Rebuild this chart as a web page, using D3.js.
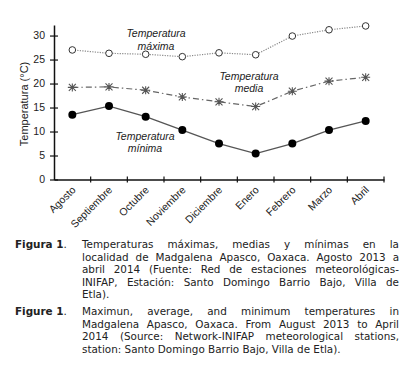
<html lang="es">
  <head>
    <meta charset="UTF-8" />
    <script src="https://cdn.jsdelivr.net/npm/d3@7"></script>
    <style>
      body { margin: 0; background: #fff; }
      svg { display: block; }
      .axis text { font-family: "Liberation Sans", Arial, sans-serif; font-size: 10.5px; fill: #222; }
      .lbl { font-family: "Liberation Sans", Arial, sans-serif; font-size: 10.5px; font-style: italic; fill: #222; }
      .cap { font-family: "DejaVu Sans", Verdana, sans-serif; font-size: 10px; fill: #222; }
    </style>
    <title>Figura 1</title>
  </head>
  <body>
    <script>
      const months = ["Agosto", "Septiembre", "Octubre", "Noviembre", "Diciembre", "Enero", "Febrero", "Marzo", "Abril"];
      const tMax = [27.0, 26.3, 26.1, 25.6, 26.4, 26.0, 29.9, 31.2, 32.0];
      const tMed = [19.2, 19.3, 18.6, 17.2, 16.2, 15.2, 18.4, 20.5, 21.3];
      const tMin = [13.5, 15.3, 13.1, 10.3, 7.5, 5.4, 7.5, 10.3, 12.2];
      const yTicks = [0, 5, 10, 15, 20, 25, 30];

      const capEs = [
        "Temperaturas máximas, medias y mínimas en la",
        "localidad de Madgalena Apasco, Oaxaca. Agosto 2013 a",
        "abril 2014 (Fuente: Red de estaciones meteorológicas-",
        "INIFAP, Estación: Santo Domingo Barrio Bajo, Villa de",
        "Etla)."
      ];
      const capEn = [
        "Maximun, average, and minimum temperatures in",
        "Madgalena Apasco, Oaxaca. From August 2013 to April",
        "2014 (Source: Network-INIFAP meteorological stations,",
        "station: Santo Domingo Barrio Bajo, Villa de Etla)."
      ];

      const width = 408, height = 385;
      const svg = d3.select("body").append("svg").attr("width", width).attr("height", height);

      const x = d3.scaleBand().domain(months).range([54, 384]);
      const y = d3.scaleLinear().domain([0, 32.2]).range([179.5, 25]);
      const cx = d => x(d) + x.bandwidth() / 2;

      // y axis
      const gy = svg.append("g").attr("class", "axis").attr("transform", "translate(54,0)")
        .call(d3.axisLeft(y).tickValues(yTicks).tickSize(0).tickPadding(9));
      gy.select(".domain").attr("stroke", "#111").attr("stroke-width", 1.5);
      gy.selectAll(".tick").append("line").attr("x1", -4).attr("x2", 4).attr("stroke", "#111").attr("stroke-width", 1.2);

      // x axis
      const gx = svg.append("g").attr("class", "axis").attr("transform", "translate(0,179.5)")
        .call(d3.axisBottom(x).tickSize(0).tickFormat(""));
      gx.select(".domain").attr("stroke", "#111").attr("stroke-width", 1.5);
      gx.selectAll(".tick").remove();
      gx.selectAll("line.t").data(months).enter().append("line")
        .attr("x1", d => x(d) + x.bandwidth()).attr("x2", d => x(d) + x.bandwidth())
        .attr("y1", -3).attr("y2", 3).attr("stroke", "#111").attr("stroke-width", 1.2);
      gx.selectAll("text.m").data(months).enter().append("text")
        .attr("text-anchor", "end")
        .attr("transform", d => "translate(" + (cx(d) + 4) + ",11) rotate(-45)")
        .text(d => d);

      svg.append("text")
        .attr("transform", "translate(28,104) rotate(-90)")
        .attr("text-anchor", "middle")
        .style("font-family", "Liberation Sans, Arial, sans-serif").style("font-size", "11px").style("fill", "#222")
        .text("Temperatura (°C)");

      const line = d3.line().x((d, i) => cx(months[i])).y(d => y(d));

      // max
      svg.append("path").datum(tMax).attr("d", line).attr("fill", "none")
        .attr("stroke", "#888").attr("stroke-width", 1.2).attr("stroke-dasharray", "1.2,1.3");
      svg.selectAll("circle.max").data(tMax).enter().append("circle")
        .attr("cx", (d, i) => cx(months[i])).attr("cy", d => y(d)).attr("r", 3.3)
        .attr("fill", "#fff").attr("stroke", "#333").attr("stroke-width", 1);

      // media
      svg.append("path").datum(tMed).attr("d", line).attr("fill", "none")
        .attr("stroke", "#666").attr("stroke-width", 1.2).attr("stroke-dasharray", "6,3,1.5,3");
      svg.selectAll("path.med").data(tMed).enter().append("path")
        .attr("transform", (d, i) => "translate(" + cx(months[i]) + "," + y(d) + ")")
        .attr("d", "M-3.5,-3.5L3.5,3.5M-3.5,3.5L3.5,-3.5M0,-4L0,4M-4.5,0L4.5,0")
        .attr("stroke", "#555").attr("stroke-width", 1.1);

      // min
      svg.append("path").datum(tMin).attr("d", line).attr("fill", "none")
        .attr("stroke", "#555").attr("stroke-width", 1.3);
      svg.selectAll("circle.min").data(tMin).enter().append("circle")
        .attr("cx", (d, i) => cx(months[i])).attr("cy", d => y(d)).attr("r", 4)
        .attr("fill", "#000");

      // series labels
      const labels = [
        { t: ["Temperatura", "máxima"], x: 156, y: 37 },
        { t: ["Temperatura", "media"], x: 249, y: 79.5 },
        { t: ["Temperatura", "mínima"], x: 145, y: 139.5 }
      ];
      labels.forEach(l => {
        l.t.forEach((s, k) => {
          svg.append("text").attr("class", "lbl").attr("x", l.x).attr("y", l.y + k * 12.5)
            .attr("text-anchor", "middle").text(s);
        });
      });

      // caption, justified
      const left = 82, right = 399;
      const capSize = 10.4;
      function justified(lines, y0) {
        lines.forEach((s, k) => {
          const yy = y0 + k * 12.5;
          const words = s.split(" ");
          const last = k === lines.length - 1;
          const nodes = words.map(w => svg.append("text").attr("class", "cap")
            .style("font-size", capSize + "px").attr("y", yy).text(w));
          const ws = nodes.map(n => n.node().getComputedTextLength());
          const total = d3.sum(ws);
          let gap = last || words.length < 2 ? 3.3 : (right - left - total) / (words.length - 1);
          let xx = left;
          nodes.forEach((n, i) => { n.attr("x", xx); xx += ws[i] + gap; });
        });
      }
      function head(txt, yy) {
        const t = svg.append("text").attr("class", "cap").style("font-size", capSize + "px")
          .attr("x", 15).attr("y", yy);
        t.append("tspan").style("font-weight", "bold").text(txt);
        t.append("tspan").text(".");
      }
      head("Figura 1", 248);
      justified(capEs, 248);
      head("Figure 1", 315);
      justified(capEn, 315);
    </script>
  </body>
</html>
